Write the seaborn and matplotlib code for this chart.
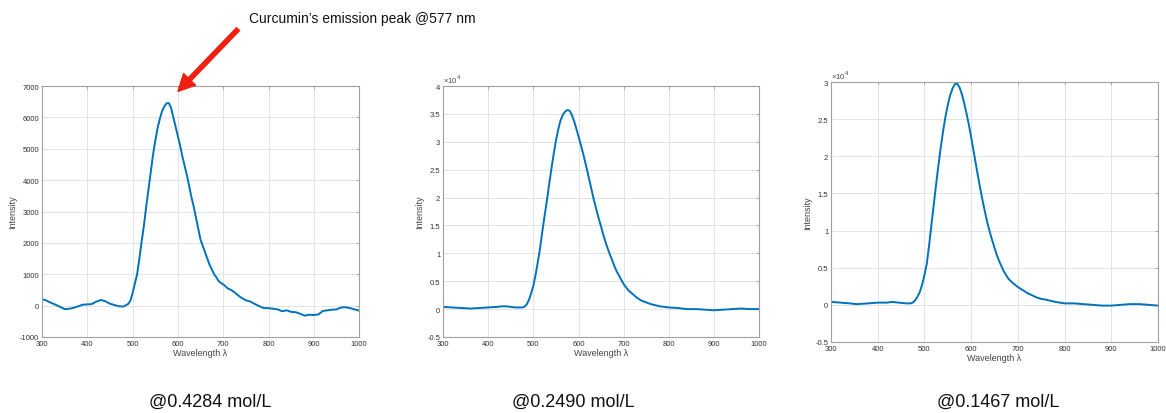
import numpy as np
import pandas as pd
import matplotlib
matplotlib.use("Agg")
import matplotlib.pyplot as plt
import seaborn as sns
from matplotlib.ticker import FuncFormatter, MultipleLocator

# ---------------- data ----------------
wl1 = [300, 310, 320, 330, 340, 350, 360, 370, 380, 390, 400, 410, 420, 430, 440, 450, 460, 470, 480,
       490, 495, 500, 505, 510, 515, 520, 525, 530, 535, 540, 545, 550, 555, 560, 565, 570, 575, 580,
       585, 590, 595, 600, 605, 610, 615, 620, 625, 630, 635, 640, 645, 650, 655, 660, 665, 670, 675,
       680, 685, 690, 695, 700, 710, 720, 730, 740, 750, 760, 770, 780, 790, 800, 810, 820, 830, 840,
       850, 860, 870, 880, 890, 900, 910, 920, 930, 940, 950, 960, 970, 980, 990, 1000]
int1 = [210, 160, 90, 30, -40, -110, -100, -70, -20, 30, 40, 50, 130, 180, 140, 60, 20, -20, -30,
        50, 150, 400, 700, 1000, 1500, 2050, 2550, 3150, 3700, 4250, 4800, 5250, 5650, 5950, 6200, 6350, 6450, 6460,
        6300, 6000, 5700, 5400, 5100, 4750, 4450, 4150, 3800, 3450, 3150, 2800, 2450, 2100, 1900, 1700, 1500, 1300, 1150,
        1000, 900, 780, 720, 680, 550, 480, 360, 250, 170, 130, 50, -20, -80, -80, -100, -120, -180, -150,
        -200, -210, -260, -320, -290, -300, -280, -170, -150, -130, -120, -60, -50, -80, -120, -160]

wl2 = [300, 320, 340, 360, 380, 400, 420, 430, 440, 460, 475, 480, 485, 490, 495, 500, 505, 510, 515, 520,
       525, 530, 535, 540, 545, 550, 555, 560, 565, 570, 575, 580, 585, 590, 595, 600, 605, 610, 615, 620,
       625, 630, 635, 640, 645, 650, 655, 660, 665, 670, 675, 680, 685, 690, 695, 700, 710, 720, 730, 740,
       750, 760, 770, 780, 790, 800, 820, 840, 860, 880, 900, 920, 940, 960, 980, 1000]
int2 = [0.04, 0.03, 0.02, 0.01, 0.02, 0.03, 0.04, 0.05, 0.05, 0.03, 0.03, 0.04, 0.08, 0.16, 0.28, 0.42, 0.62, 0.85, 1.10, 1.40,
        1.68, 1.95, 2.24, 2.52, 2.78, 3.02, 3.22, 3.38, 3.48, 3.54, 3.57, 3.56, 3.49, 3.38, 3.24, 3.10, 2.95, 2.80, 2.63, 2.46,
        2.28, 2.10, 1.93, 1.77, 1.62, 1.48, 1.33, 1.20, 1.08, 0.97, 0.87, 0.76, 0.67, 0.60, 0.52, 0.45, 0.34, 0.27, 0.20, 0.15,
        0.12, 0.09, 0.07, 0.05, 0.04, 0.03, 0.02, 0.00, 0.00, -0.01, -0.02, -0.01, 0.00, 0.01, 0.00, 0.00]

wl3 = [300, 320, 340, 355, 380, 400, 420, 430, 445, 460, 470, 475, 480, 485, 490, 495, 500, 505, 510, 515,
       520, 525, 530, 535, 540, 545, 550, 555, 560, 565, 570, 575, 580, 585, 590, 595, 600, 605, 610, 615,
       620, 625, 630, 635, 640, 645, 650, 655, 660, 665, 670, 675, 680, 690, 700, 710, 720, 730, 740, 750,
       760, 780, 800, 820, 840, 860, 880, 900, 920, 940, 960, 980, 1000]
int3 = [0.04, 0.03, 0.02, 0.01, 0.02, 0.03, 0.03, 0.04, 0.03, 0.02, 0.02, 0.03, 0.06, 0.11, 0.17, 0.27, 0.40, 0.55, 0.80, 1.08,
        1.35, 1.62, 1.88, 2.12, 2.34, 2.53, 2.69, 2.82, 2.91, 2.97, 2.98, 2.93, 2.84, 2.72, 2.58, 2.43, 2.26, 2.08, 1.90, 1.72,
        1.55, 1.39, 1.24, 1.10, 0.98, 0.87, 0.77, 0.67, 0.59, 0.52, 0.45, 0.40, 0.35, 0.29, 0.24, 0.20, 0.16, 0.13, 0.10, 0.08,
        0.07, 0.04, 0.02, 0.02, 0.01, 0.00, -0.01, -0.01, 0.00, 0.01, 0.01, 0.00, -0.01]

concentrations = ["@0.4284 mol/L", "@0.2490 mol/L", "@0.1467 mol/L"]
annotation_text = "Curcumin\u2019s emission peak @577 nm"
x_ticks = [300, 400, 500, 600, 700, 800, 900, 1000]

# ---------------- style ----------------
sns.set_theme(style="whitegrid")
plt.rcParams["font.family"] = ["Liberation Sans", "DejaVu Sans"]

LINE = "#0072BD"
fig = plt.figure(figsize=(11.66, 4.14), dpi=100)
fig.patch.set_facecolor("white")

positions = [
    [0.036, 0.1836, 0.272, 0.606],
    [0.380, 0.1836, 0.271, 0.606],
    [0.7127, 0.1715, 0.2804, 0.628],
]
datasets = [(wl1, int1), (wl2, int2), (wl3, int3)]
ylims = [(-1000, 7000), (-0.5, 4), (-0.5, 3)]
ysteps = [1000, 0.5, 0.5]

for i, (pos, (wl, inten)) in enumerate(zip(positions, datasets)):
    ax = fig.add_axes(pos)
    df = pd.DataFrame({"Wavelength": wl, "Intensity": inten})
    sns.lineplot(data=df, x="Wavelength", y="Intensity", ax=ax, color=LINE, linewidth=1.4)
    ax.set_xlim(300, 1000)
    ax.set_ylim(*ylims[i])
    ax.set_xticks(x_ticks)
    ax.yaxis.set_major_locator(MultipleLocator(ysteps[i]))
    ax.yaxis.set_major_formatter(FuncFormatter(lambda v, p: f"{v:g}"))
    ax.set_xlabel("Wavelength \u03bb", fontsize=6.5, color="#444444", labelpad=1)
    ax.set_ylabel("Intensity", fontsize=6.5, color="#444444", labelpad=2)
    ax.set_facecolor("white")
    ax.grid(True, color="#e3e3e3", linewidth=0.7)
    for s in ax.spines.values():
        s.set_color("#a0a0a0")
        s.set_linewidth(0.8)
    ax.tick_params(axis="both", labelsize=5.5, colors="#333333", direction="in",
                   length=2.5, width=0.6, pad=2, top=True, right=True)
    ax.tick_params(axis="both", color="#a0a0a0")
    if i > 0:
        ax.text(0.0, 1.005, "\u00d710$^4$", transform=ax.transAxes, fontsize=5.5,
                color="#444444", ha="left", va="bottom")
    cx = pos[0] + pos[2] / 2
    fig.text([0.180, 0.492, 0.856][i], 0.029, concentrations[i], fontsize=13,
             ha="center", va="center", color="#111111")

fig.text(0.2135, 0.954, annotation_text, fontsize=10, ha="left", va="center", color="#111111")
fig.patches.append(matplotlib.patches.FancyArrowPatch(
    (0.2058, 0.932), (0.151, 0.772), transform=fig.transFigure,
    arrowstyle="simple,head_length=12,head_width=12,tail_width=3", color="#f02010",
    mutation_scale=1))

fig.savefig("out.png", dpi=100, facecolor="white")
